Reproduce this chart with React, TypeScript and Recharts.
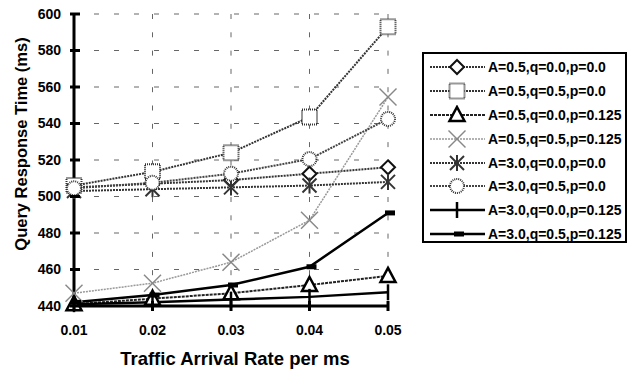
import React from 'react'
import { LineChart, Line, XAxis, YAxis, CartesianGrid, Legend } from 'recharts'

const xValues = [0.01, 0.02, 0.03, 0.04, 0.05]
const yTicks = [440, 460, 480, 500, 520, 540, 560, 580, 600]

const a05q00p0 = [505, 507, 509, 512.5, 516]
const a05q05p0 = [506, 513.5, 524, 543.5, 593]
const a05q00p125 = [441, 444, 447, 451.5, 456.5]
const a05q05p125 = [447, 452.5, 464, 487, 554.5]
const a30q00p0 = [503, 504, 505, 506, 508]
const a30q05p0 = [504.5, 507.5, 512.5, 520.5, 542.5]
const a30q00p125 = [441, 442, 443.5, 445, 447.5]
const a30q05p125 = [442, 446, 451.5, 461.5, 491]

type Kind = 'diamond' | 'square' | 'triangle' | 'x' | 'asterisk' | 'circle' | 'plus' | 'dash'

const SERIES: { key: string; name: string; values: number[]; kind: Kind; stroke: string; width: number; dash?: string }[] = [
  { key: 's1', name: 'A=0.5,q=0.0,p=0.0', values: a05q00p0, kind: 'diamond', stroke: '#333', width: 2, dash: '2 1' },
  { key: 's2', name: 'A=0.5,q=0.5,p=0.0', values: a05q05p0, kind: 'square', stroke: '#333', width: 2, dash: '2 1' },
  { key: 's3', name: 'A=0.5,q=0.0,p=0.125', values: a05q00p125, kind: 'triangle', stroke: '#222', width: 2, dash: '3 1' },
  { key: 's4', name: 'A=0.5,q=0.5,p=0.125', values: a05q05p125, kind: 'x', stroke: '#999', width: 1.5, dash: '2 1' },
  { key: 's5', name: 'A=3.0,q=0.0,p=0.0', values: a30q00p0, kind: 'asterisk', stroke: '#333', width: 2, dash: '2 1' },
  { key: 's6', name: 'A=3.0,q=0.5,p=0.0', values: a30q05p0, kind: 'circle', stroke: '#444', width: 2, dash: '2 1' },
  { key: 's7', name: 'A=3.0,q=0.0,p=0.125', values: a30q00p125, kind: 'plus', stroke: '#000', width: 2.5 },
  { key: 's8', name: 'A=3.0,q=0.5,p=0.125', values: a30q05p125, kind: 'dash', stroke: '#000', width: 2.5 },
]

const rows = xValues.map((x, i) => {
  const r: Record<string, number> = { x }
  for (const s of SERIES) r[s.key] = s.values[i]
  return r
})

const FONT = '"Liberation Sans", Arial, sans-serif'

function Marker({ kind, cx, cy }: { kind: Kind; cx: number; cy: number }) {
  switch (kind) {
    case 'diamond':
      return <polygon points={`${cx},${cy - 7} ${cx + 7},${cy} ${cx},${cy + 7} ${cx - 7},${cy}`} fill="#fff" stroke="#111" strokeWidth={2} />
    case 'square':
      return <rect x={cx - 7.5} y={cy - 7.5} width={15} height={15} fill="#fff" stroke="#333" strokeWidth={2} strokeDasharray="1 1" />
    case 'circle':
      return <circle cx={cx} cy={cy} r={7} fill="#fff" stroke="#333" strokeWidth={2} strokeDasharray="1 1" />
    case 'triangle':
      return <polygon points={`${cx},${cy - 8} ${cx + 7.5},${cy + 6} ${cx - 7.5},${cy + 6}`} fill="#fff" stroke="#000" strokeWidth={2.5} />
    case 'x':
      return (
        <g stroke="#888" strokeWidth={1.5}>
          <line x1={cx - 8.5} y1={cy - 8.5} x2={cx + 8.5} y2={cy + 8.5} />
          <line x1={cx - 8.5} y1={cy + 8.5} x2={cx + 8.5} y2={cy - 8.5} />
        </g>
      )
    case 'asterisk':
      return (
        <g stroke="#333" strokeWidth={2}>
          <line x1={cx - 7} y1={cy - 7} x2={cx + 7} y2={cy + 7} />
          <line x1={cx - 7} y1={cy + 7} x2={cx + 7} y2={cy - 7} />
          <line x1={cx} y1={cy - 8} x2={cx} y2={cy + 8} />
        </g>
      )
    case 'plus':
      return <line x1={cx} y1={cy - 8} x2={cx} y2={cy + 8} stroke="#000" strokeWidth={2.5} />
    case 'dash':
      return <rect x={cx - 3} y={cy - 2.5} width={10} height={5} fill="#000" />
  }
}

function YTick({ x, y, payload }: any) {
  return (
    <g>
      <line x1={x - 4} y1={y} x2={x + 6} y2={y} stroke="#000" strokeWidth={3} />
      <text x={x - 13} y={y} dy="0.35em" textAnchor="end" fontFamily={FONT} fontWeight="bold" fontSize={14} fill="#000">{payload.value}</text>
    </g>
  )
}

function XTick({ x, y, payload }: any) {
  return (
    <g>
      <line x1={x} y1={y - 5} x2={x} y2={y + 5} stroke="#000" strokeWidth={3} />
      <text x={x} y={y + 24} dy="0.35em" textAnchor="middle" fontFamily={FONT} fontWeight="bold" fontSize={14} fill="#000">{Number(payload.value).toFixed(2)}</text>
    </g>
  )
}

function LegendBox() {
  return (
    <div style={{ width: 205, height: 191, boxSizing: 'border-box', border: '2px solid #000', background: '#fff', paddingTop: 1 }}>
      {SERIES.map(s => (
        <div key={s.key} style={{ display: 'flex', alignItems: 'center', height: 23.9 }}>
          <svg width={64} height={20} style={{ flex: 'none' }}>
            <line x1={6} y1={10} x2={61} y2={10} stroke={s.stroke} strokeWidth={s.width} strokeDasharray={s.dash} />
            <Marker kind={s.kind} cx={33} cy={10} />
          </svg>
          <span style={{ fontFamily: FONT, fontWeight: 'bold', fontSize: 14, color: '#000', whiteSpace: 'nowrap' }}>{s.name}</span>
        </div>
      ))}
    </div>
  )
}

export default function App() {
  return (
    <div style={{ position: 'absolute', left: 0, top: 0, width: 628, height: 371, background: '#fff' }}>
      <LineChart width={628} height={371} data={rows} margin={{ top: 14, right: 240, bottom: 0, left: 0 }}>
        <CartesianGrid vertical={false} stroke="#666" strokeDasharray="5 15" />
        <CartesianGrid horizontal={false} stroke="#666" strokeDasharray="5 13.3" />
        <XAxis
          dataKey="x" type="number" domain={[0.01, 0.05]} ticks={xValues} height={65}
          axisLine={{ stroke: '#000', strokeWidth: 3 }} tickLine={false} tickSize={0} tickMargin={0}
          tick={<XTick />} interval={0}
          label={{
            content: ({ viewBox }: any) => (
              <text x={viewBox.x + viewBox.width / 2 + 4} y={viewBox.y + viewBox.height - 6} textAnchor="middle" fontFamily={FONT} fontWeight="bold" fontSize={18.5} fill="#000">Traffic Arrival Rate per ms</text>
            ),
          }}
        />
        <YAxis
          type="number" domain={[440, 600]} ticks={yTicks} width={74}
          axisLine={{ stroke: '#000', strokeWidth: 3 }} tickLine={false} tickSize={0} tickMargin={0}
          tick={<YTick />} interval={0}
          label={{
            content: ({ viewBox }: any) => {
              const cx = 21
              const cy = viewBox.y + viewBox.height / 2 - 16
              return <text x={cx} y={cy} dy="0.35em" transform={`rotate(-90 ${cx} ${cy})`} textAnchor="middle" fontFamily={FONT} fontWeight="bold" fontSize={16.5} fill="#000">Query Response Time (ms)</text>
            },
          }}
        />
        <Legend layout="vertical" align="center" verticalAlign="middle" wrapperStyle={{ left: 422, top: 52, width: 205, height: 191 }} content={() => <LegendBox />} />
        {SERIES.map(s => (
          <Line
            key={s.key} dataKey={s.key} name={s.name} stroke={s.stroke} strokeWidth={s.width} strokeDasharray={s.dash}
            isAnimationActive={false}
            dot={(p: any) => <Marker key={p.index} kind={s.kind} cx={p.cx} cy={p.cy} />}
          />
        ))}
      </LineChart>
    </div>
  )
}
